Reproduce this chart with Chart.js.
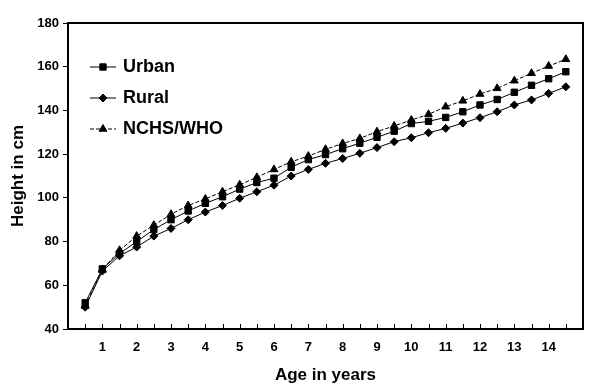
<!DOCTYPE html>
<html lang="en">
<head>
  <meta charset="UTF-8" />
  <title>Height by age</title>
  <script src="https://cdn.jsdelivr.net/npm/chart.js"></script>
  <style>
    html, body { margin: 0; padding: 0; background: #fff; }
    #wrap { width: 599px; height: 391px; position: relative; }
  </style>
</head>
<body>
  <div id="wrap"><canvas id="heightChart"></canvas></div>

  <script>
    // ages (years) and mean heights (cm)
    const ages  = [0.5, 1, 1.5, 2, 2.5, 3, 3.5, 4, 4.5, 5, 5.5, 6, 6.5, 7, 7.5, 8, 8.5, 9, 9.5, 10, 10.5, 11, 11.5, 12, 12.5, 13, 13.5, 14, 14.5];
    const urban = [52, 67.5, 74.5, 80, 85.5, 90, 94, 97.5, 100.5, 104, 107, 109, 114, 117.5, 119.8, 122.5, 125, 127.7, 130.5, 134, 135, 136.8, 139.4, 142.5, 145, 148.3, 151.5, 154.5, 157.7];
    const rural = [50, 66.5, 73.5, 77.5, 82.5, 86, 90, 93.5, 96.5, 99.8, 102.8, 105.8, 110, 113, 115.8, 118, 120.4, 123, 125.7, 127.5, 129.8, 131.8, 134.2, 136.7, 139.4, 142.5, 144.8, 147.8, 150.8];
    const nchs  = [50.5, 67, 76, 82.5, 87.5, 92.5, 96.5, 99.5, 102.8, 106, 109.4, 113, 116.5, 119.1, 122.2, 124.9, 127.2, 130.3, 132.9, 135.6, 138.2, 141.7, 144.4, 147.5, 150.1, 153.6, 157, 160.3, 163.4];
    const yTicks = [40, 60, 80, 100, 120, 140, 160, 180];
    const xLabels = [1, 2, 3, 4, 5, 6, 7, 8, 9, 10, 11, 12, 13, 14];

    const FONT = "'Liberation Sans', Arial, sans-serif";

    function toPoints(vals) {
      return ages.map((a, i) => ({ x: a, y: vals[i] }));
    }

    // frame, inside half-year ticks and legend
    const decorations = {
      id: 'decorations',
      afterDraw(chart) {
        const ctx = chart.ctx;
        const area = chart.chartArea;
        const xs = chart.scales.x;
        ctx.save();
        ctx.strokeStyle = '#000';
        ctx.lineWidth = 2;
        ctx.strokeRect(area.left, area.top, area.right - area.left, area.bottom - area.top);

        ctx.lineWidth = 1;
        ctx.beginPath();
        ages.forEach(a => {
          const px = Math.round(xs.getPixelForValue(a)) + 0.5;
          ctx.moveTo(px, area.bottom);
          ctx.lineTo(px, area.bottom - 5);
        });
        ctx.stroke();

        // legend
        const items = chart.data.datasets;
        items.forEach((ds, i) => {
          const y = 67 + i * 31;
          ctx.beginPath();
          ctx.setLineDash(ds.borderDash || []);
          ctx.lineWidth = 1;
          ctx.moveTo(90, y);
          ctx.lineTo(116, y);
          ctx.stroke();
          ctx.setLineDash([]);
          Chart.helpers.drawPoint(ctx, {
            pointStyle: ds.pointStyle,
            radius: ds.pointRadius,
            borderWidth: 1
          }, 103, y);
          ctx.fillStyle = '#000';
          ctx.font = 'bold 18px ' + FONT;
          ctx.textBaseline = 'middle';
          ctx.textAlign = 'left';
          ctx.fillText(ds.label, 123, y);
        });
        ctx.restore();
      }
    };

    const ctx = document.getElementById('heightChart').getContext('2d');
    new Chart(ctx, {
      type: 'line',
      data: {
        datasets: [
          {
            label: 'Urban',
            data: toPoints(urban),
            borderColor: '#000',
            backgroundColor: '#000',
            borderWidth: 1,
            pointStyle: 'rect',
            pointRadius: 4.5,
            pointBackgroundColor: '#000',
            pointBorderColor: '#000'
          },
          {
            label: 'Rural',
            data: toPoints(rural),
            borderColor: '#000',
            backgroundColor: '#000',
            borderWidth: 1,
            pointStyle: 'rectRot',
            pointRadius: 4,
            pointBackgroundColor: '#000',
            pointBorderColor: '#000'
          },
          {
            label: 'NCHS/WHO',
            data: toPoints(nchs),
            borderColor: '#000',
            backgroundColor: '#000',
            borderWidth: 1,
            borderDash: [4, 2],
            pointStyle: 'triangle',
            pointRadius: 4.5,
            pointBackgroundColor: '#000',
            pointBorderColor: '#000'
          }
        ]
      },
      options: {
        responsive: true,
        maintainAspectRatio: false,
        animation: false,
        layout: { padding: { left: 0, right: 16, top: 23, bottom: 0 } },
        plugins: {
          legend: { display: false },
          tooltip: { enabled: false }
        },
        scales: {
          x: {
            type: 'linear',
            min: 0,
            max: 15,
            afterBuildTicks: s => { s.ticks = xLabels.map(v => ({ value: v })); },
            afterFit: s => { s.height = 62; },
            grid: { display: false },
            border: { display: false },
            ticks: {
              color: '#000',
              font: { family: FONT, size: 13, weight: 'bold' },
              padding: 3,
              maxRotation: 0,
              autoSkip: false
            },
            title: {
              display: true,
              text: 'Age in years',
              color: '#000',
              font: { family: FONT, size: 17, weight: 'bold' },
              padding: { top: 10, bottom: 5 }
            }
          },
          y: {
            min: 40,
            max: 180,
            afterBuildTicks: s => { s.ticks = yTicks.map(v => ({ value: v })); },
            afterFit: s => { s.width = 68; },
            grid: { drawOnChartArea: false, tickLength: 5, color: '#000' },
            border: { display: false },
            ticks: {
              color: '#000',
              font: { family: FONT, size: 13, weight: 'bold' },
              padding: 4
            },
            title: {
              display: true,
              text: 'Height in cm',
              color: '#000',
              font: { family: FONT, size: 17, weight: 'bold' },
              padding: { top: 8, bottom: 0 }
            }
          }
        }
      },
      plugins: [decorations]
    });
  </script>
</body>
</html>
